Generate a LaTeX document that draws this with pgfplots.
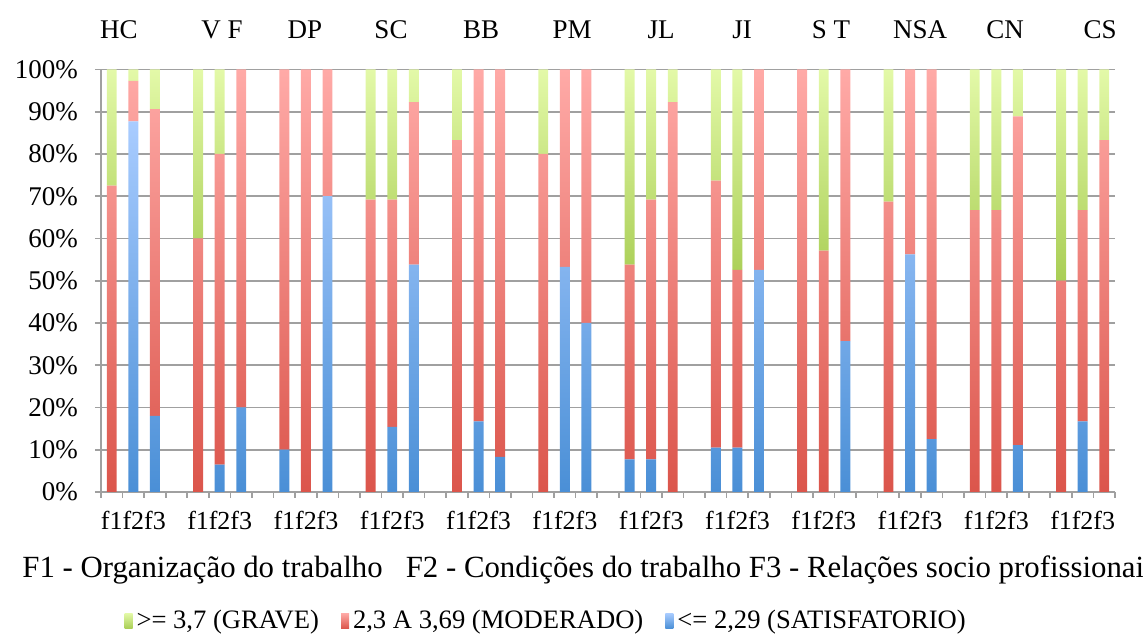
\documentclass[border=0pt]{standalone}
\usepackage{pgfplots}
\pgfplotsset{compat=1.18}
\usepackage{pgfplotstable}
\usepackage{fontspec}
\setmainfont{Liberation Serif}

\definecolor{gridgray}{HTML}{A0A0A0}
\definecolor{bluetop}{HTML}{A9CCFF}
\definecolor{bluebot}{HTML}{4A8FD6}
\definecolor{redtop}{HTML}{FFAAA7}
\definecolor{redbot}{HTML}{DB554B}
\definecolor{greentop}{HTML}{E3F9A8}
\definecolor{greenbot}{HTML}{A9CE55}

% x = 4*group + factor (f1, f2, f3); values in percent of respondents
\pgfplotstableread{
x   sat    mod    grave
0   0      72.5   27.5
1   87.7   9.6    2.7
2   18.0   72.6   9.4
4   0      60.0   40.0
5   6.5    73.5   20.0
6   20.0   80.0   0
8   10.0   90.0   0
9   0      100.0  0
10  70.0   30.0   0
12  0      69.2   30.8
13  15.4   53.8   30.8
14  53.8   38.5   7.7
16  0      83.3   16.7
17  16.7   83.3   0
18  8.3    91.7   0
20  0      80.0   20.0
21  53.3   46.7   0
22  40.0   60.0   0
24  7.7    46.1   46.2
25  7.7    61.5   30.8
26  0      92.3   7.7
28  10.5   63.2   26.3
29  10.5   42.1   47.4
30  52.6   47.4   0
32  0      100.0  0
33  0      57.1   42.9
34  35.7   64.3   0
36  0      68.75  31.25
37  56.25  43.75  0
38  12.5   87.5   0
40  0      66.7   33.3
41  0      66.7   33.3
42  11.1   77.8   11.1
44  0      50.0   50.0
45  16.7   50.0   33.3
46  0      83.3   16.7
}\dados

\begin{document}
\begin{tikzpicture}
\path[use as bounding box] (0,0) rectangle (571.5pt,317.5pt);
\begin{axis}[
  at={(50.5pt,71.5pt)}, anchor=south west,
  scale only axis, width=507pt, height=211.25pt,
  ybar stacked, bar width=0.46,
  xmin=-0.5, xmax=46.5, ymin=0, ymax=100,
  axis x line*=bottom, axis y line*=left,
  axis line style={gridgray, line width=0.8pt, -},
  xtick={0,1,2,4,5,6,8,9,10,12,13,14,16,17,18,20,21,22,24,25,26,28,29,30,32,33,34,36,37,38,40,41,42,44,45,46},
  xticklabels={f1,f2,f3,f1,f2,f3,f1,f2,f3,f1,f2,f3,f1,f2,f3,f1,f2,f3,f1,f2,f3,f1,f2,f3,f1,f2,f3,f1,f2,f3,f1,f2,f3,f1,f2,f3},
  major x tick style={draw=none},
  minor xtick={-0.5,0.5,...,46.5},
  minor x tick style={gridgray, line width=0.8pt},
  minor tick length=3pt,
  ytick={0,10,...,100},
  yticklabels={0\%,10\%,20\%,30\%,40\%,50\%,60\%,70\%,80\%,90\%,100\%},
  major y tick style={gridgray, line width=0.8pt},
  major tick length=3pt,
  tick align=outside,
  ymajorgrids, grid style={gridgray, line width=0.8pt},
  xticklabel style={font=\fontsize{13}{15}\selectfont, inner xsep=0pt, yshift=-3pt},
  yticklabel style={font=\fontsize{13.5}{16}\selectfont, xshift=-5pt},
  reverse legend,
  legend columns=-1,
  legend style={at={(0.44,-0.305)}, anchor=center, draw=none, fill=none,
    font=\fontsize{13.3}{15}\selectfont,
    /tikz/every even column/.append style={column sep=9pt}},
  legend image code/.code={\path[#1, draw=none] (0pt,-3.8pt) rectangle (4pt,3.8pt);},
  legend cell align=left,
]
\addplot[draw=none, top color=bluetop, bottom color=bluebot] table[x=x, y=sat] {\dados};
\addplot[draw=none, top color=redtop, bottom color=redbot] table[x=x, y=mod] {\dados};
\addplot[draw=none, top color=greentop, bottom color=greenbot] table[x=x, y=grave] {\dados};
\legend{{<= 2,29 (SATISFATORIO)}, {2,3 A 3,69 (MODERADO)}, {>= 3,7 (GRAVE)}}
\end{axis}
\begin{scope}[every node/.style={font=\fontsize{13.5}{16}\selectfont}]
\node at (59.5pt,302.5pt) {HC};
\node at (111pt,302.5pt) {V F};
\node at (152.5pt,302.5pt) {DP};
\node at (195.5pt,302.5pt) {SC};
\node at (240.5pt,302.5pt) {BB};
\node at (286pt,302.5pt) {PM};
\node at (330.5pt,302.5pt) {JL};
\node at (371pt,302.5pt) {JI};
\node at (415.5pt,302.5pt) {S T};
\node at (460pt,302.5pt) {NSA};
\node at (502.5pt,302.5pt) {CN};
\node at (550pt,302.5pt) {CS};
\end{scope}
\node[anchor=west, inner sep=0pt, font=\fontsize{15.4}{18}\selectfont] at (11pt,32.5pt)
  {F1 - Organização do trabalho\ \ \ F2 - Condições do trabalho F3 - Relações socio profissionais};
\end{tikzpicture}
\end{document}
